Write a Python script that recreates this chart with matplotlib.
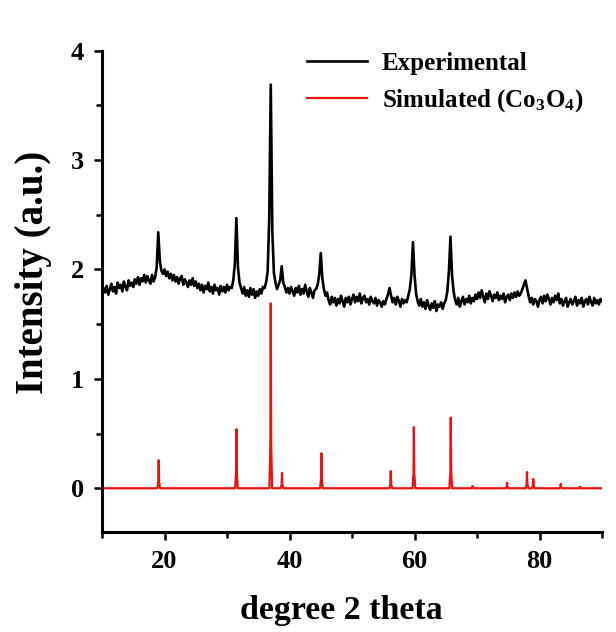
import matplotlib
matplotlib.use("Agg")
import matplotlib.pyplot as plt
from matplotlib.ticker import MultipleLocator
import numpy as np

plt.rcParams['font.family'] = ['Liberation Serif', 'DejaVu Serif']
plt.rcParams['font.weight'] = 'bold'
plt.rcParams['mathtext.fontset'] = 'custom'
plt.rcParams['mathtext.rm'] = 'Liberation Serif:bold'
plt.rcParams['mathtext.bf'] = 'Liberation Serif:bold'
plt.rcParams['mathtext.default'] = 'bf'

# experimental pattern, 2theta step 0.25 deg from 10 to 90
two_theta_start = 10.0
two_theta_step = 0.25
exp_intensity = [
    1.76, 1.83, 1.79, 1.85, 1.77, 1.82, 1.87, 1.80, 1.84, 1.78, 1.88, 1.83, 1.86, 1.80, 1.89, 1.84, 1.81, 1.90, 1.85, 1.88,
    1.84, 1.91, 1.87, 1.93, 1.86, 1.92, 1.89, 1.95, 1.88, 1.94, 1.90, 1.87, 1.95, 1.89, 1.93, 2.02, 2.34, 2.08, 1.99, 1.96,
    2.00, 1.94, 1.98, 1.92, 1.96, 1.90, 1.95, 1.89, 1.93, 1.87, 1.92, 1.94, 1.86, 1.91, 1.88, 1.84, 1.90, 1.86, 1.92, 1.85,
    1.89, 1.83, 1.87, 1.81, 1.86, 1.79, 1.85, 1.82, 1.88, 1.80, 1.84, 1.78, 1.86, 1.81, 1.83, 1.77, 1.85, 1.80, 1.84, 1.79,
    1.86, 1.81, 1.84, 1.83, 1.90, 2.05, 2.47, 2.02, 1.88, 1.83, 1.78, 1.84, 1.76, 1.81, 1.75, 1.83, 1.77, 1.82, 1.74, 1.80,
    1.76, 1.82, 1.78, 1.84, 1.83, 1.88, 1.98, 2.45, 3.69, 2.35, 1.97, 1.88, 1.82, 1.86, 1.90, 2.03, 1.88, 1.84, 1.79, 1.83,
    1.78, 1.84, 1.80, 1.76, 1.83, 1.79, 1.85, 1.77, 1.82, 1.78, 1.86, 1.80, 1.75, 1.83, 1.79, 1.74, 1.81, 1.82, 1.86, 1.95,
    2.15, 1.92, 1.82, 1.76, 1.79, 1.72, 1.68, 1.75, 1.70, 1.74, 1.67, 1.73, 1.69, 1.76, 1.71, 1.66, 1.74, 1.70, 1.75, 1.68,
    1.73, 1.77, 1.70, 1.75, 1.71, 1.78, 1.69, 1.74, 1.76, 1.70, 1.73, 1.68, 1.75, 1.71, 1.69, 1.74, 1.67, 1.72, 1.70, 1.66,
    1.71, 1.68, 1.73, 1.77, 1.83, 1.76, 1.70, 1.74, 1.68, 1.75, 1.71, 1.66, 1.73, 1.69, 1.72, 1.70, 1.76, 1.82, 1.95, 2.25,
    1.95, 1.78, 1.71, 1.67, 1.73, 1.66, 1.70, 1.64, 1.72, 1.67, 1.63, 1.69, 1.65, 1.71, 1.62, 1.68, 1.66, 1.70, 1.64, 1.69,
    1.72, 1.80, 1.98, 2.30, 1.95, 1.80, 1.72, 1.68, 1.74, 1.66, 1.71, 1.75, 1.68, 1.73, 1.70, 1.76, 1.69, 1.74, 1.71, 1.77,
    1.73, 1.79, 1.74, 1.81, 1.75, 1.70, 1.78, 1.73, 1.80, 1.76, 1.71, 1.77, 1.74, 1.79, 1.72, 1.76, 1.73, 1.78, 1.70, 1.75,
    1.77, 1.72, 1.78, 1.74, 1.79, 1.75, 1.80, 1.76, 1.78, 1.82, 1.86, 1.90, 1.83, 1.76, 1.70, 1.74, 1.68, 1.73, 1.71, 1.66,
    1.72, 1.75, 1.69, 1.76, 1.71, 1.77, 1.73, 1.68, 1.74, 1.70, 1.76, 1.72, 1.78, 1.69, 1.73, 1.67, 1.71, 1.74, 1.66, 1.70,
    1.73, 1.68, 1.71, 1.75, 1.67, 1.72, 1.69, 1.74, 1.66, 1.71, 1.73, 1.68, 1.75, 1.70, 1.67, 1.74, 1.69, 1.72, 1.68, 1.73,
    1.71,
]

# simulated Co3O4 reflections
sim_positions = [19.07, 31.5, 37.0, 38.8, 45.1, 56.2, 59.9, 65.8, 69.3, 74.8, 78.0, 79.0, 83.4, 86.5]
sim_heights = [0.257, 0.54, 1.69, 0.14, 0.32, 0.157, 0.56, 0.645, 0.02, 0.05, 0.148, 0.085, 0.04, 0.015]

exp_x = two_theta_start + two_theta_step * np.arange(len(exp_intensity))

# stick pattern drawn as narrow spikes
sim_x = [10.0]
sim_y = [0.0]
for pos, h in zip(sim_positions, sim_heights):
    sim_x += [pos - 0.22, pos - 0.06, pos, pos + 0.06, pos + 0.22]
    sim_y += [0.0, h * 0.25, h, h * 0.25, 0.0]
sim_x.append(90.0)
sim_y.append(0.0)

fig = plt.figure(figsize=(6.16, 6.32), dpi=100)
ax = fig.add_axes([0.1656, 0.1582, 0.8117, 0.7616])

ax.plot(exp_x, exp_intensity, color='black', lw=1.9, label='Experimental')
ax.plot(sim_x, sim_y, color='#f01010', lw=1.6, label='Simulated (Co$_3$O$_4$)')

ax.set_xlim(10, 90)
ax.set_ylim(-0.4, 4)
ax.xaxis.set_major_locator(MultipleLocator(20))
ax.xaxis.set_minor_locator(MultipleLocator(10))
ax.yaxis.set_major_locator(MultipleLocator(1))
ax.yaxis.set_minor_locator(MultipleLocator(0.5))

for s in ['top', 'right']:
    ax.spines[s].set_visible(False)
for s in ['left', 'bottom']:
    ax.spines[s].set_linewidth(2.2)

ax.tick_params(which='major', direction='out', length=6, width=1.8, labelsize=19, pad=7)
ax.tick_params(which='minor', direction='out', length=4.5, width=1.8)
for lab in ax.get_xticklabels() + ax.get_yticklabels():
    lab.set_fontweight('bold')

ax.set_xlabel('degree 2 theta', fontsize=24.5, fontweight='bold')
ax.set_ylabel('Intensity (a.u.)', fontsize=28, fontweight='bold')
ax.xaxis.set_label_coords(0.478, -0.13)
ax.yaxis.set_label_coords(-0.1, 0.54)

ax.legend(loc='upper left', bbox_to_anchor=(0.365, 1.045), frameon=False,
          handlelength=2.4, handletextpad=0.6, labelspacing=0.5,
          prop={'weight': 'bold', 'size': 18})

fig.savefig('out.png', dpi=100)
